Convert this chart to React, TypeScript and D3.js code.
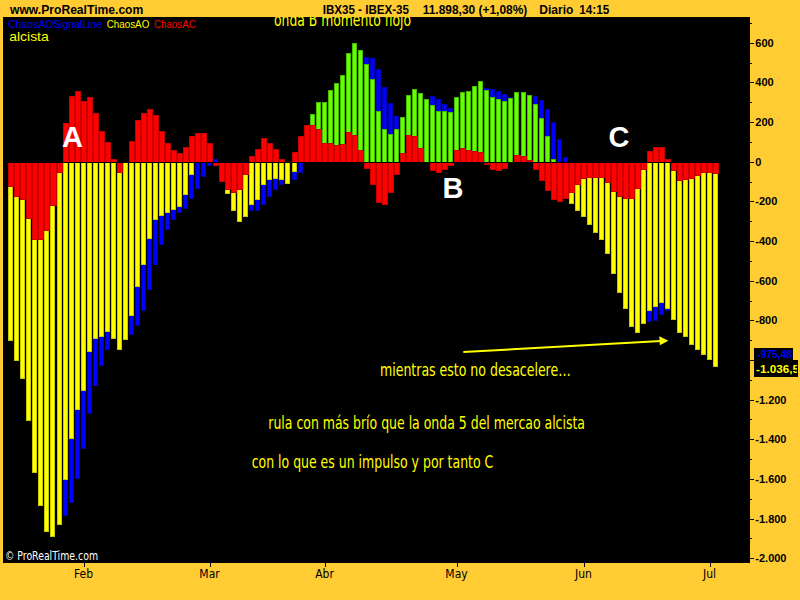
import React from "react";
import * as d3 from "d3";

// ---------- DATA ----------
const janDays = [16, 17, 18, 21, 22, 23, 24, 25, 28, 29, 30, 31];
const febDays = [1, 4, 5, 6, 7, 8, 11, 12, 13, 14, 15, 18, 19, 20, 21, 22, 25, 26, 27, 28, 29];
const marDays = [3, 4, 5, 6, 7, 10, 11, 12, 13, 14, 17, 18, 19, 20, 25, 26, 27, 28, 31];
const aprDays = [1, 2, 3, 4, 7, 8, 9, 10, 11, 14, 15, 16, 17, 18, 21, 22, 23, 24, 25, 28, 29, 30];
const mayDays = [2, 5, 6, 7, 8, 9, 12, 13, 14, 15, 16, 19, 20, 21, 22, 23, 26, 27, 28, 29, 30];
const junDays = [2, 3, 4, 5, 6, 9, 10, 11, 12, 13, 16, 17, 18, 19, 20, 23, 24, 25, 26, 27, 30];
const julDays = [1, 2];

const monthLabels = ["Feb", "Mar", "Abr", "May", "Jun", "Jul"];

// ChaosAO (yellow when negative, green when positive)
const chaosAO = [
  -906, -1006, -1096, -1310, -1570, -1738, -1865, -1893, -1834, -1607,
  -1398, -1254, -1154, -960, -894, -884, -861, -893, -952, -901,
  -780, -634, -519, -390, -296, -275, -259, -242, -226, -166,
  -69, 20, 50, 30, -8, -60, -163, -251, -306, -280,
  -220, -192, -116, -90, -86, -91, -112, -54, 40, 120,
  242, 302, 302, 363, 398, 439, 550, 600, 565, 494,
  419, 258, 166, 141, 166, 227, 338, 368, 348, 317,
  287, 258, 258, 253, 328, 353, 358, 383, 409, 363,
  328, 317, 307, 323, 353, 353, 338, 292, 222, 131,
  15, -40, -120, -215, -251, -280, -321, -362, -397, -467,
  -568, -664, -745, -835, -866, -820, -755, -735, -711, -745,
  -796, -866, -886, -922, -952, -977, -998, -1036.5,
];

// ChaosAOSignalLine (blue)
const chaosSignal = [
  -880, -960, -1050, -1250, -1380, -1500, -1620, -1700, -1750, -1789,
  -1719, -1599, -1449, -1274, -1133, -1032, -952, -890, -895, -890,
  -876, -830, -755, -645, -523, -422, -346, -292, -259, -237,
  -188, -138, -78, -24, 12, -20, -60, -120, -180, -230,
  -247, -251, -220, -180, -141, -119, -100, -90, -57, -7,
  40, 100, 160, 220, 280, 330, 380, 430, 480, 529,
  524, 469, 378, 297, 232, 200, 190, 200, 230, 260,
  333, 317, 292, 272, 270, 280, 300, 320, 340, 373,
  368, 358, 343, 328, 330, 335, 335, 333, 312, 268,
  202, 116, 25, -40, -100, -150, -200, -250, -300, -350,
  -410, -480, -560, -640, -720, -780, -806, -801, -775, -755,
  -770, -790, -820, -850, -890, -920, -950, -975.48,
];

// ChaosAC (red)
const chaosAC = [
  -130, -176, -193, -291, -397, -397, -351, -221, -57, 193,
  330, 355, 304, 325, 248, 157, 101, 15, -57, -3,
  106, 208, 248, 264, 238, 157, 96, 61, 46, 76,
  132, 147, 147, 96, -22, -100, -142, -159, -142, -69,
  30, 66, 117, 96, 66, 15, 0, 51, 132, 183,
  186, 166, 95, 95, 85, 90, 152, 135, 61, -37,
  -117, -210, -216, -159, -69, 46, 137, 132, 71, -8,
  -49, -59, -44, -24, 61, 71, 61, 56, 51, -19,
  -44, -49, -37, -7, 35, 30, 10, -44, -95, -147,
  -193, -203, -189, -156, -117, -86, -80, -80, -80, -105,
  -151, -176, -186, -186, -137, -41, 54, 74, 74, 14,
  -47, -95, -90, -85, -74, -59, -59, -64,
];

const yMajorTicks = [600, 400, 200, 0, -200, -400, -600, -800, -1000, -1200, -1400, -1600, -1800, -2000];
const yMinorTicks = [700, 500, 300, 100, -100, -300, -500, -700, -900, -1100, -1300, -1500, -1700, -1900];

// ---------- STYLE ----------
const ORANGE = "#FFCC33";
const NARROW = "'Liberation Sans Narrow','Arial Narrow','DejaVu Sans Condensed',sans-serif";
const SANS = "'Liberation Sans',Arial,Helvetica,sans-serif";

const monthDays: [string, number[]][] = [
  ["01", janDays], ["02", febDays], ["03", marDays], ["04", aprDays],
  ["05", mayDays], ["06", junDays], ["07", julDays],
];
const dates = monthDays.flatMap(([m, ds]) => ds.map((d) => `2008-${m}-${String(d).padStart(2, "0")}`));

const locale = d3.formatLocale({ decimal: ",", thousands: ".", grouping: [3], currency: ["", ""], minus: "-" });
const fmtInt = locale.format(",d");
const fmtDec2 = locale.format(",.2f");
const fmtDec1 = locale.format(",.1f");

const plot = { x0: 3, x1: 750, y0: 17, y1: 563 };

function Bar({ x, w, v, y, fill, edge }: { x: number; w: number; v: number; y: d3.ScaleLinear<number, number>; fill: string; edge: string }) {
  if (v === 0) return null;
  const yv = Math.round(y(v));
  let top: number, bottom: number;
  if (v > 0) {
    top = yv;
    bottom = 162;
  } else {
    top = 163;
    bottom = yv;
  }
  const h = bottom - top;
  if (h <= 0) return null;
  return (
    <g>
      <rect x={x} y={top} width={w} height={h} fill={edge} />
      {h > 2 && w > 2 ? <rect x={x + 1} y={top + (v > 0 ? 1 : 0)} width={w - 2} height={h - 1} fill={fill} /> : null}
    </g>
  );
}

export default function App() {
  const x = d3
    .scaleBand<string>()
    .domain(dates)
    .range([8.3, 8.3 + 6.026 * dates.length])
    .paddingInner(0)
    .paddingOuter(0);
  const y = d3.scaleLinear().domain([-2023.7, 729.7]).range([plot.y1, plot.y0]);

  const bx = (i: number) => Math.round(x(dates[i]) as number);
  const bxEnd = (i: number) => Math.round((x(dates[i]) as number) + x.step());

  const monthStarts: number[] = [];
  dates.forEach((d, i) => {
    if (i > 0 && d.slice(5, 7) !== dates[i - 1].slice(5, 7)) monthStarts.push(i);
  });

  const lastAO = chaosAO[chaosAO.length - 1];
  const lastSig = chaosSignal[chaosSignal.length - 1];
  const boxTop = 348;
  const boxBottom = 377;
  // axis labels hidden behind the last-value boxes are not drawn
  const visibleLabels = yMajorTicks.filter((t) => {
    const ty = y(t);
    return ty < boxTop - 5 || ty > boxBottom + 5;
  });

  return (
    <svg width={800} height={600} style={{ position: "absolute", left: 0, top: 0, display: "block" }} xmlns="http://www.w3.org/2000/svg">
      <defs>
        <clipPath id="plotClip">
          <rect x={plot.x0} y={plot.y0} width={plot.x1 - plot.x0} height={plot.y1 - plot.y0} />
        </clipPath>
        <clipPath id="aoLabelClip">
          <rect x={754} y={350} width={43} height={30} />
        </clipPath>
      </defs>
      <rect x={0} y={0} width={800} height={600} fill={ORANGE} />
      <rect x={plot.x0} y={plot.y0} width={plot.x1 - plot.x0} height={plot.y1 - plot.y0} fill="#000" />

      {/* bars */}
      <g shapeRendering="crispEdges">
        {dates.map((d, i) => (
          <Bar key={"s" + d} x={bx(i)} w={5} v={chaosSignal[i]} y={y} fill="#0000FF" edge="#0000B8" />
        ))}
        {dates.map((d, i) => (
          <Bar
            key={"a" + d}
            x={bx(i)}
            w={5}
            v={chaosAO[i]}
            y={y}
            fill={chaosAO[i] > 0 ? "#66FF00" : "#FFFF00"}
            edge={chaosAO[i] > 0 ? "#44BB00" : "#C8C800"}
          />
        ))}
        {dates.map((d, i) => (
          <Bar key={"c" + d} x={bx(i)} w={bxEnd(i) - bx(i)} v={chaosAC[i]} y={y} fill="#FF0000" edge="#C80000" />
        ))}
      </g>

      {/* legend */}
      <text x={8} y={27.7} fontFamily={SANS} fontSize={10} fill="#0000FF" textLength={94} lengthAdjust="spacingAndGlyphs">ChaosAOSignalLine</text>
      <text x={106.7} y={27.7} fontFamily={SANS} fontSize={10} fill="#FFFF00" textLength={42.6} lengthAdjust="spacingAndGlyphs">ChaosAO</text>
      <text x={154} y={27.7} fontFamily={SANS} fontSize={10} fill="#FF0000" textLength={41.7} lengthAdjust="spacingAndGlyphs">ChaosAC</text>
      <text x={9.3} y={41} fontFamily={SANS} fontSize={13} fill="#FFFF00" textLength={39.4} lengthAdjust="spacingAndGlyphs">alcista</text>

      {/* annotations */}
      <g clipPath="url(#plotClip)">
        <text x={274} y={26} fontFamily={NARROW} fontSize={17} fill="#FFFF00" textLength={137} lengthAdjust="spacingAndGlyphs">onda B momento flojo</text>
      </g>
      <text x={62} y={146.7} fontFamily={SANS} fontWeight="bold" fontSize={29} fill="#FFFFFF">A</text>
      <text x={442.5} y={197.7} fontFamily={SANS} fontWeight="bold" fontSize={29} fill="#FFFFFF">B</text>
      <text x={608.5} y={146.5} fontFamily={SANS} fontWeight="bold" fontSize={29} fill="#FFFFFF">C</text>

      <line x1={463.3} y1={352} x2={661} y2={341.1} stroke="#FFFF00" strokeWidth={2} />
      <path d="M668.3,340.7 L659.3,336.2 L659.8,345.3 Z" fill="#FFFF00" />

      <text x={380} y={375.7} fontFamily={NARROW} fontSize={17} fill="#FFFF00" textLength={190.7} lengthAdjust="spacingAndGlyphs">mientras esto no desacelere…</text>
      <text x={268.3} y={428.7} fontFamily={NARROW} fontSize={17} fill="#FFFF00" textLength={316.7} lengthAdjust="spacingAndGlyphs">rula con más brío que la onda 5 del mercao alcista</text>
      <text x={251.7} y={468.3} fontFamily={NARROW} fontSize={17} fill="#FFFF00" textLength={241.6} lengthAdjust="spacingAndGlyphs">con lo que es un impulso y por tanto C</text>

      <text x={5} y={559.5} fontFamily={NARROW} fontSize={12} fill="#FFFFFF" textLength={93} lengthAdjust="spacingAndGlyphs">© ProRealTime.com</text>

      {/* header */}
      <rect x={0} y={0} width={800} height={plot.y0} fill={ORANGE} />
      <text x={10} y={14} fontFamily={SANS} fontWeight="bold" fontSize={12.5} fill="#000" textLength={133.3} lengthAdjust="spacingAndGlyphs">www.ProRealTime.com</text>
      <text x={322.7} y={14} fontFamily={SANS} fontWeight="bold" fontSize={12.5} fill="#000" textLength={86.3} lengthAdjust="spacingAndGlyphs">IBX35 - IBEX-35</text>
      <text x={422.7} y={14} fontFamily={SANS} fontWeight="bold" fontSize={12.5} fill="#000" textLength={104.6} lengthAdjust="spacingAndGlyphs">11.898,30 (+1,08%)</text>
      <text x={539.3} y={14} fontFamily={SANS} fontWeight="bold" fontSize={12.5} fill="#000" textLength={34} lengthAdjust="spacingAndGlyphs">Diario</text>
      <text x={579.3} y={14} fontFamily={SANS} fontWeight="bold" fontSize={12.5} fill="#000" textLength={30} lengthAdjust="spacingAndGlyphs">14:15</text>

      {/* y axis */}
      <g shapeRendering="crispEdges">
        {yMinorTicks.map((t) => (
          <line key={"m" + t} x1={plot.x1} x2={plot.x1 + 2} y1={Math.round(y(t)) + 0.5} y2={Math.round(y(t)) + 0.5} stroke="#000" />
        ))}
        {yMajorTicks.map((t) => (
          <line key={"M" + t} x1={plot.x1} x2={plot.x1 + 4} y1={Math.round(y(t)) + 0.5} y2={Math.round(y(t)) + 0.5} stroke="#000" />
        ))}
      </g>
      {visibleLabels.map((t) => (
        <text key={"l" + t} x={755.3} y={y(t) + 4} fontFamily={SANS} fontWeight="bold" fontSize={11} fill="#000">
          {fmtInt(t)}
        </text>
      ))}

      {/* last values */}
      <rect x={754} y={boxTop} width={39} height={12} fill="#000" />
      <text x={757.3} y={y(lastSig) + 2.5} fontFamily={SANS} fontWeight="bold" fontSize={10} fill="#0000FF" textLength={34.4} lengthAdjust="spacingAndGlyphs">
        {fmtDec2(lastSig)}
      </text>
      <rect x={754} y={360} width={44} height={boxBottom - 360} fill="#000" />
      <g clipPath="url(#aoLabelClip)">
        <text x={756} y={y(lastAO) + 6} fontFamily={SANS} fontWeight="bold" fontSize={10.5} fill="#FFFF00" textLength={43} lengthAdjust="spacingAndGlyphs">
          {fmtDec1(lastAO)}
        </text>
      </g>

      {/* x axis */}
      <g shapeRendering="crispEdges">
        {monthStarts.map((i) => {
          const cx = Math.round(bx(i) + 2.5) + 0.5;
          return <line key={"t" + i} x1={cx} x2={cx} y1={plot.y1} y2={plot.y1 + 4} stroke="#000" />;
        })}
      </g>
      {monthStarts.map((i, k) => (
        <text key={"x" + i} x={bx(i) + 2.5} y={578.3} textAnchor="middle" fontFamily={NARROW} fontSize={12} fill="#000">
          {monthLabels[k]}
        </text>
      ))}
    </svg>
  );
}
